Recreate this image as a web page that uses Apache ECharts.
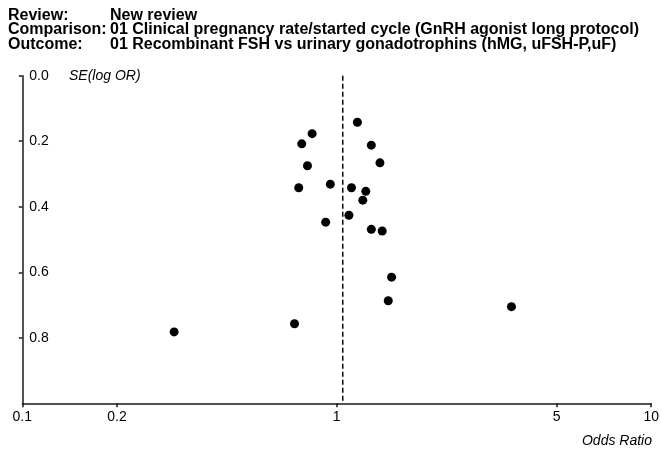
<!DOCTYPE html>
<html>
<head>
<meta charset="utf-8">
<script src="https://cdn.jsdelivr.net/npm/echarts@6/dist/echarts.min.js"></script>
<style>
  html, body { margin: 0; padding: 0; background: #fff; }
  #chart { width: 662px; height: 449px; }
</style>
</head>
<body>
<div id="chart"></div>
<script>
// ---- Data ----
const headerLabels = ['Review:', 'Comparison:', 'Outcome:'];
const headerValues = [
  'New review',
  '01 Clinical pregnancy rate/started cycle (GnRH agonist long protocol)',
  '01 Recombinant FSH vs urinary gonadotrophins (hMG, uFSH-P,uF)'
];
// Odds ratio of each study
const oddsRatios = [1.163, 0.835, 0.774, 1.288, 1.372, 0.807, 0.757, 0.954, 1.114, 1.237,
                    1.210, 1.093, 0.922, 1.288, 1.395, 1.494, 1.458, 3.594, 0.734, 0.304];
// Standard error of log OR of each study
const seLogOR = [0.142, 0.177, 0.208, 0.212, 0.266, 0.275, 0.342, 0.331, 0.342, 0.353,
                 0.380, 0.426, 0.447, 0.469, 0.474, 0.615, 0.687, 0.705, 0.757, 0.782];
const pooledOR = 1.045;
const seRange = [0, 1];
const xTickValues = [0.1, 0.2, 1, 5, 10];
const yTickValues = [0, 0.2, 0.4, 0.6, 0.8];
const xAxisTitle = 'Odds Ratio';
const yAxisTitle = 'SE(log OR)';

// ---- Build ----
const FONT = '"Liberation Sans", Arial, Helvetica, sans-serif';
const log10 = Math.log10;
const points = oddsRatios.map((or, i) => [log10(or), seLogOR[i]]);
const pooledLine = seRange.map(se => [log10(pooledOR), se]);
const xTicksLog = xTickValues.map(log10);

const axisLineStyle = { color: '#1a1a1a', width: 1.5 };
const xFmt = v => String(+Math.pow(10, v).toPrecision(2));
const yFmt = v => v.toFixed(1);

const xAxis = {
  type: 'value', min: log10(0.1), max: log10(10), position: 'bottom',
  axisLine: { show: true, onZero: false, lineStyle: axisLineStyle },
  axisTick: { show: true, length: 4, lineStyle: axisLineStyle, customValues: xTicksLog },
  axisLabel: { customValues: xTicksLog, margin: 7, color: '#000', fontFamily: FONT, fontSize: 14,
               formatter: xFmt },
  splitLine: { show: false }
};
const yAxis = {
  type: 'value', min: 0, max: 1, inverse: true, position: 'left',
  axisLine: { show: true, onZero: false, lineStyle: axisLineStyle },
  axisTick: { show: true, length: 3.5, lineStyle: axisLineStyle, customValues: yTickValues },
  axisLabel: { inside: true, customValues: yTickValues, margin: 7, color: '#000',
               fontFamily: FONT, fontSize: 14, formatter: yFmt },
  splitLine: { show: false }
};

const graphics = [];
const lineY = [15.5, 30, 44.5];
headerLabels.forEach((t, i) => {
  graphics.push({ type: 'text', x: 8, y: lineY[i],
    style: { text: t, fill: '#000', font: 'bold 16px ' + FONT, textVerticalAlign: 'middle' } });
  graphics.push({ type: 'text', x: 110, y: lineY[i],
    style: { text: headerValues[i], fill: '#000', font: 'bold 16px ' + FONT, textVerticalAlign: 'middle' } });
});
graphics.push({ type: 'text', x: 69, y: 76,
  style: { text: yAxisTitle, fill: '#000', font: 'italic 14px ' + FONT, textVerticalAlign: 'middle' } });
graphics.push({ type: 'text', x: 652, y: 441,
  style: { text: xAxisTitle, fill: '#000', font: 'italic 14px ' + FONT,
           textAlign: 'right', textVerticalAlign: 'middle' } });

const chart = echarts.init(document.getElementById('chart'), null, { renderer: 'canvas' });
chart.setOption({
  animation: false,
  backgroundColor: '#fff',
  grid: { left: 22.3, right: 10, top: 75.7, bottom: 45.7, containLabel: false },
  xAxis: xAxis,
  yAxis: yAxis,
  graphic: graphics,
  series: [
    {
      type: 'line', data: pooledLine, symbol: 'none', silent: true,
      lineStyle: { color: '#000', type: [5, 3], width: 1.5 }
    },
    {
      type: 'scatter', data: points, symbol: 'circle', symbolSize: 9,
      itemStyle: { color: '#000', opacity: 1 }
    }
  ]
});
</script>
</body>
</html>
